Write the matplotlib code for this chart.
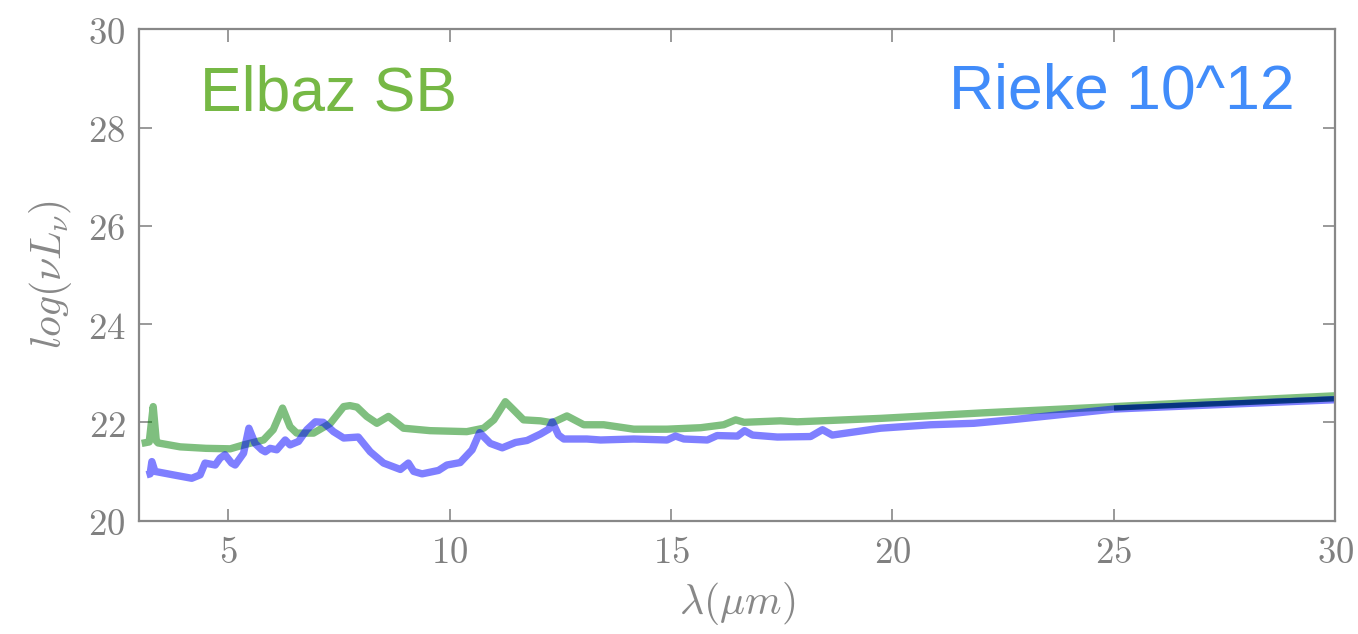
import numpy as np
import matplotlib
matplotlib.use("Agg")
import matplotlib.pyplot as plt

plt.rcParams['mathtext.fontset'] = 'cm'

# --- data ---
elbaz_x = [3.05, 3.22, 3.31, 3.38, 3.42, 3.92, 4.5, 5.05, 5.35, 5.80, 6.02, 6.23, 6.40, 6.55,
           6.93, 7.31, 7.61, 7.75, 7.91, 8.13, 8.36, 8.62, 8.96, 9.56, 10.39, 10.77, 11.0, 11.26,
           11.45, 11.67, 12.05, 12.32, 12.65, 13.03, 13.48, 14.16, 14.91, 15.67, 16.19, 16.46,
           16.65, 17.47, 17.85, 19.73, 21.99, 25.0, 30.0]
elbaz_y = [21.57, 21.60, 22.32, 21.62, 21.58, 21.50, 21.47, 21.46, 21.54, 21.64, 21.85, 22.29,
           21.91, 21.78, 21.78, 21.98, 22.32, 22.34, 22.31, 22.12, 21.98, 22.12, 21.88, 21.83,
           21.81, 21.88, 22.05, 22.42, 22.25, 22.05, 22.03, 21.99, 22.13, 21.95, 21.95, 21.86,
           21.86, 21.89, 21.95, 22.05, 22.00, 22.03, 22.01, 22.08, 22.19, 22.32, 22.54]

rieke_x = [3.16, 3.24, 3.28, 3.35, 3.76, 4.18, 4.37, 4.48, 4.71, 4.82, 4.93, 5.08, 5.16, 5.35,
           5.47, 5.61, 5.76, 5.84, 5.95, 6.10, 6.29, 6.40, 6.59, 6.78, 6.97, 7.15, 7.38, 7.61,
           7.94, 8.21, 8.51, 8.89, 9.07, 9.19, 9.38, 9.75, 9.94, 10.24, 10.51, 10.68, 10.92,
           11.19, 11.49, 11.75, 12.05, 12.24, 12.32, 12.46, 12.58, 13.10, 13.41, 14.16, 14.91,
           15.10, 15.29, 15.82, 16.04, 16.50, 16.66, 16.84, 17.40, 18.15, 18.42, 18.64, 19.73,
           20.86, 21.84, 22.67, 25.0, 30.0]
rieke_y = [20.93, 20.95, 21.20, 21.00, 20.93, 20.86, 20.93, 21.17, 21.13, 21.27, 21.34, 21.17,
           21.13, 21.37, 21.88, 21.57, 21.44, 21.40, 21.47, 21.44, 21.64, 21.54, 21.61, 21.85,
           22.01, 22.00, 21.81, 21.68, 21.70, 21.40, 21.17, 21.04, 21.17, 21.00, 20.95, 21.02,
           21.13, 21.18, 21.44, 21.79, 21.57, 21.48, 21.59, 21.63, 21.76, 21.86, 22.01, 21.74,
           21.66, 21.66, 21.64, 21.66, 21.64, 21.72, 21.66, 21.64, 21.73, 21.72, 21.83, 21.74,
           21.70, 21.71, 21.85, 21.74, 21.88, 21.95, 21.98, 22.05, 22.27, 22.46]

xticks = [5, 10, 15, 20, 25, 30]
yticks = [20, 22, 24, 26, 28, 30]

gray = '#888888'

fig = plt.figure(figsize=(13.58, 6.34), dpi=100)
ax = fig.add_axes([0.1027, 0.179, 0.8807, 0.7745])

ax.plot(elbaz_x, elbaz_y, color='green', alpha=0.5, lw=5.3,
        solid_capstyle='butt', solid_joinstyle='round')
ax.plot(rieke_x, rieke_y, color='blue', alpha=0.5, lw=5.3,
        solid_capstyle='butt', solid_joinstyle='round')

# darker rendering where the two curves overlap
rx = np.asarray(rieke_x)
ry = np.asarray(rieke_y)
gy_at_r = np.interp(rx, elbaz_x, elbaz_y)
ov = np.where(np.abs(gy_at_r - ry) < 0.1, ry + 0.02, np.nan)
ax.plot(rx, ov, color='#00307a', lw=3.8, alpha=0.9, solid_capstyle='butt')

ax.set_xlim(3, 30)
ax.set_ylim(20, 30)
ax.set_xticks(xticks)
ax.set_yticks(yticks)
ax.set_xticklabels([r'$%d$' % t for t in xticks])
ax.set_yticklabels([r'$%d$' % t for t in yticks])

for s in ax.spines.values():
    s.set_color(gray)
    s.set_linewidth(1.6)
ax.tick_params(direction='in', length=9, width=1.2, color=gray, labelcolor='#808080',
               labelsize=26.5, top=True, right=True, pad=10)

ax.set_xlabel(r'$\lambda(\mu m)$', fontsize=30, color=gray, labelpad=6)
ax.set_ylabel(r'$log(\nu L_{\nu})$', fontsize=30, color=gray, labelpad=10)

ax.text(0.0506, 0.836, 'Elbaz SB', transform=ax.transAxes, fontsize=45,
        family='Liberation Sans', color='#76b845', ha='left', va='baseline')
ax.text(0.966, 0.840, 'Rieke 10^12', transform=ax.transAxes, fontsize=45,
        family='Liberation Sans', color='#418cfa', ha='right', va='baseline')

fig.savefig('out.png', dpi=100)
